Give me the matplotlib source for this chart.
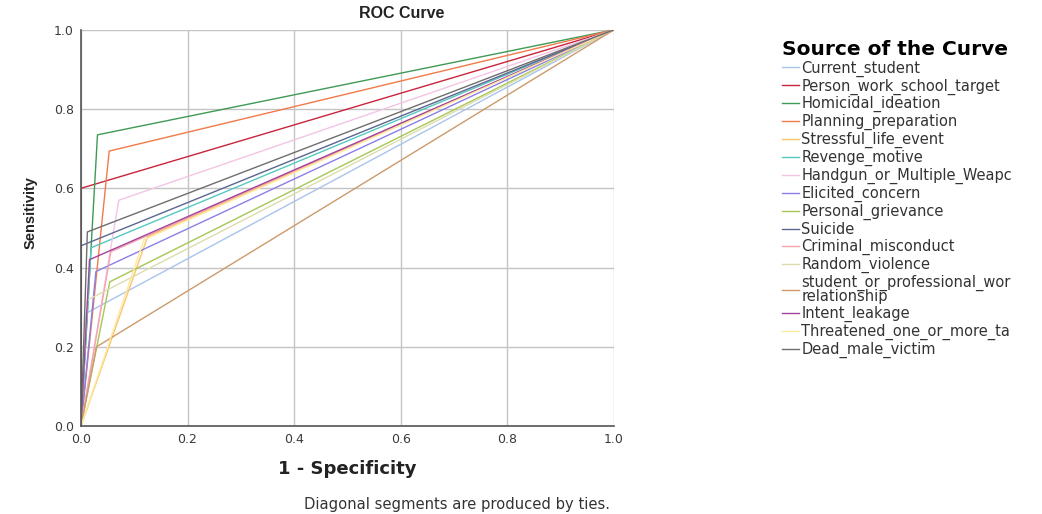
import matplotlib
matplotlib.use("Agg")
import matplotlib.pyplot as plt

plt.rcParams['font.family'] = ['DejaVu Sans']

# variable names as shown in the legend (clipped like the source)
names = ["Current_student", "Person_work_school_target", "Homicidal_ideation",
         "Planning_preparation", "Stressful_life_event", "Revenge_motive",
         "Handgun_or_Multiple_Weapc", "Elicited_concern", "Personal_grievance",
         "Suicide", "Criminal_misconduct", "Random_violence",
         "student_or_professional_wor\nrelationship", "Intent_leakage",
         "Threatened_one_or_more_ta", "Dead_male_victim"]

# knee of each ROC curve (1 - specificity, sensitivity)
fpr_knee = [0.010, 0.000, 0.031, 0.053, 0.125, 0.019, 0.071, 0.028,
            0.054, 0.000, 0.056, 0.012, 0.029, 0.016, 0.118, 0.012]
tpr_knee = [0.285, 0.600, 0.735, 0.694, 0.478, 0.450, 0.570, 0.390,
            0.364, 0.455, 0.440, 0.318, 0.200, 0.420, 0.470, 0.490]

colors = ["#a9c4ec", "#c8243c", "#3e9a55", "#f07a4a", "#f9c66a", "#55c8c0",
          "#f3c4e4", "#8a7fe6", "#a7c653", "#5c6690", "#f7a2ac", "#dcdcb0",
          "#cc9a6c", "#a2449e", "#fde9a0", "#6e6e6e"]

fig = plt.figure(figsize=(10.42, 5.14), dpi=100)
ax = fig.add_axes([0.0777, 0.171, 0.5115, 0.771])

for name, f, t, c in zip(names, fpr_knee, tpr_knee, colors):
    ax.plot([0, f, 1], [0, t, 1], color=c, lw=1.0, label=name)

ax.set_xlim(0, 1)
ax.set_ylim(0, 1)
ax.set_xticks([0, 0.2, 0.4, 0.6, 0.8, 1.0])
ax.set_yticks([0, 0.2, 0.4, 0.6, 0.8, 1.0])
ax.set_xticklabels(["0.0", "0.2", "0.4", "0.6", "0.8", "1.0"])
ax.set_yticklabels(["0.0", "0.2", "0.4", "0.6", "0.8", "1.0"])
ax.tick_params(length=0, labelsize=9, colors="#3a3a3a", pad=5)
ax.grid(True, color="#c4c4c4", lw=1.0)
ax.set_axisbelow(True)
for s in ["top", "right"]:
    ax.spines[s].set_visible(False)
for s in ["left", "bottom"]:
    ax.spines[s].set_color("#555555")
    ax.spines[s].set_linewidth(1.2)

fig.text(402 / 1042, 1 - 13 / 514, "ROC Curve", ha="center", va="center",
         fontsize=11.5, fontweight="bold", family="Liberation Sans", color="#222222")
ax.set_xlabel("1 - Specificity", fontsize=13, fontweight="bold", labelpad=10,
              color="#222222")
ax.set_ylabel("Sensitivity", fontsize=10.5, fontweight="bold",
              family="Liberation Sans", color="#222222")
ax.yaxis.set_label_coords(-0.082, 0.54)

fig.text(457 / 1042, 1 - 505 / 514, "Diagonal segments are produced by ties.",
         ha="center", va="center", fontsize=10.6, color="#333333")

leg = ax.legend(loc="upper left", bbox_to_anchor=(1.304, 0.99), frameon=False,
                title="Source of the Curve", fontsize=10.5, handlelength=1.2,
                handletextpad=0.15, labelspacing=0.12, borderaxespad=0,
                alignment="left")
leg.get_title().set_fontweight("bold")
leg.get_title().set_fontsize(14.5)
for txt in leg.get_texts():
    txt.set_color("#333333")
    txt.set_linespacing(0.85)

fig.savefig("out.png", dpi=100)
